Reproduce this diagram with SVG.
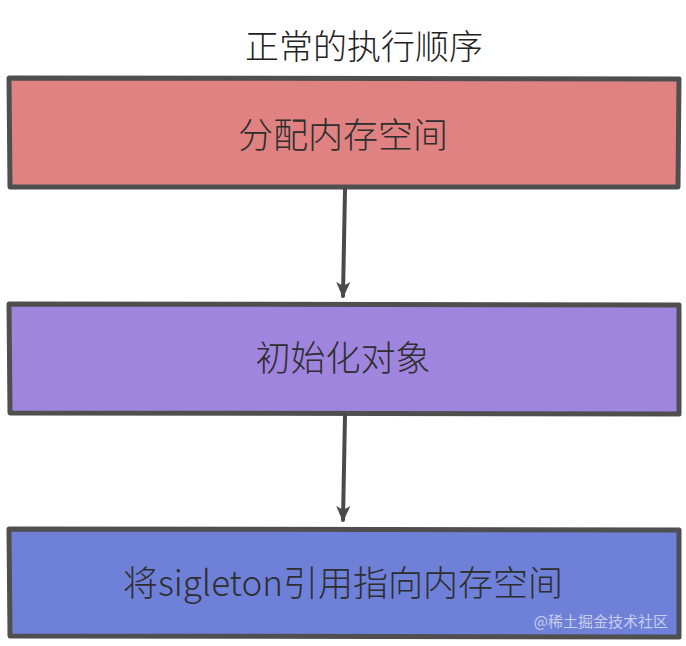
<svg xmlns="http://www.w3.org/2000/svg" width="686" height="646" viewBox="0 0 686 646">
<style>
.box{stroke:#4f4f4f;stroke-width:5;stroke-linejoin:round}
.lbl{font-family:"Noto Sans CJK SC","Noto Sans",sans-serif;font-size:35px;font-weight:300;fill:#2e2e2e;text-anchor:middle}
.con{stroke:#4a4a4a;stroke-width:4;fill:none;stroke-linecap:round}
</style>
<defs>
<marker id="ah" markerWidth="16" markerHeight="14" refX="14" refY="7" orient="auto" markerUnits="userSpaceOnUse" viewBox="0 0 16 14">
<path d="M0,0 L16,7 L0,14 L4,7 Z" fill="#4a4a4a"/>
</marker>
</defs>
<rect width="686" height="646" fill="#ffffff"/>
<text x="364" y="59" style="font-family:'Noto Sans CJK SC','Noto Sans',sans-serif;font-size:34px;font-weight:300;fill:#222;text-anchor:middle">正常的执行顺序</text>
<g id="n1">
<path class="box" fill="#e08282" d="M9,78 L679,79 L678,187 L10,187 Z"/>
<text class="lbl" x="343" y="148">分配内存空间</text>
</g>
<g id="n2">
<path class="box" fill="#9f85de" d="M9,304 L679,305 L679,414 L10,413 Z"/>
<text class="lbl" x="343" y="371">初始化对象</text>
</g>
<g id="n3">
<path class="box" fill="#6f80d8" d="M9,529 L679,530 L679,637 L10,636 Z"/>
<text class="lbl" x="343" y="596">将sigleton引用指向内存空间</text>
<text x="668" y="627" style="font-family:'Noto Sans CJK SC',sans-serif;font-size:15px;fill:#c8cfee;text-anchor:end">@稀土掘金技术社区</text>
</g>
<g id="connectors">
<path class="con" d="M345,189 L343,296" marker-end="url(#ah)"/>
<path class="con" d="M345,415 L343,520" marker-end="url(#ah)"/>
</g>
</svg>
